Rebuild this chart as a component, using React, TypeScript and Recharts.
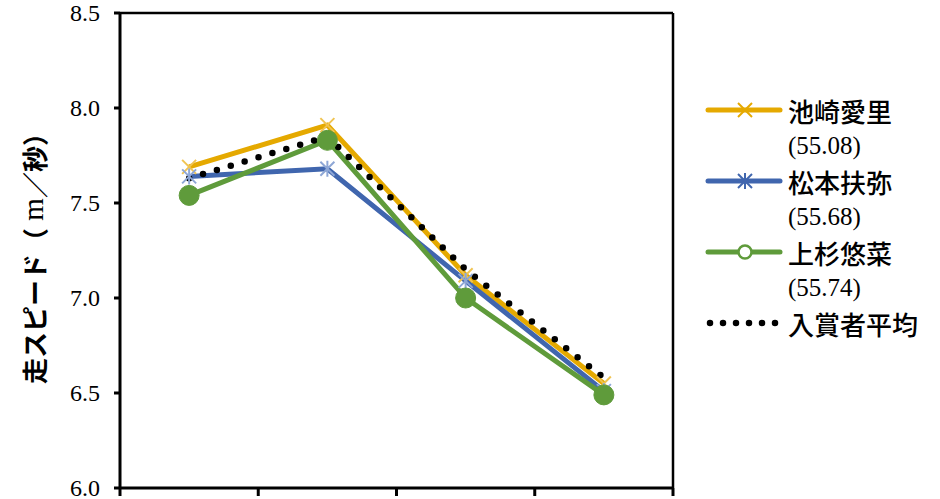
import React from 'react';
import { LineChart, Line, XAxis, YAxis, ReferenceLine, Legend } from 'recharts';

const sections = ['区間1', '区間2', '区間3', '区間4'];
const ikezaki = [7.69, 7.91, 7.12, 6.55];
const matsumoto = [7.64, 7.68, 7.09, 6.51];
const uesugi = [7.54, 7.83, 7.0, 6.49];
const average = [7.63, 7.85, 7.15, 6.58];
const yTicks = [6.0, 6.5, 7.0, 7.5, 8.0, 8.5];
const xTicks = [0, 1, 2, 3, 4];

const SERIES = [
    { key: 'ikezaki', name: '池崎愛里', time: '(55.08)', color: '#E5A900', marker: 'x' },
    { key: 'matsumoto', name: '松本扶弥', time: '(55.68)', color: '#4066AE', marker: 'star' },
    { key: 'uesugi', name: '上杉悠菜', time: '(55.74)', color: '#5F9B3B', marker: 'circle' },
    { key: 'average', name: '入賞者平均', time: '', color: '#000000', marker: 'none' },
];

const chartData = sections.map((s, i) => ({
    section: s,
    x: i + 0.5,
    ikezaki: ikezaki[i],
    matsumoto: matsumoto[i],
    uesugi: uesugi[i],
    average: average[i],
}));

const SERIF = 'Liberation Serif, DejaVu Serif, serif';
const CJK = 'Noto Sans CJK JP, Noto Sans, sans-serif';

const XDot = (props: any) => {
    const { cx, cy } = props;
    if (cx == null || cy == null) return null;
    const r = 7;
    return (
        <g stroke="#F0C452" strokeWidth={2}>
            <line x1={cx - r} y1={cy - r} x2={cx + r} y2={cy + r} />
            <line x1={cx - r} y1={cy + r} x2={cx + r} y2={cy - r} />
        </g>
    );
};

const StarDot = (props: any) => {
    const { cx, cy } = props;
    if (cx == null || cy == null) return null;
    const r = 7;
    return (
        <g stroke="#8EA7D6" strokeWidth={2}>
            <line x1={cx - r} y1={cy - r} x2={cx + r} y2={cy + r} />
            <line x1={cx - r} y1={cy + r} x2={cx + r} y2={cy - r} />
            <line x1={cx} y1={cy - r - 1} x2={cx} y2={cy + r + 1} />
        </g>
    );
};

const CircleDot = (props: any) => {
    const { cx, cy } = props;
    if (cx == null || cy == null) return null;
    return <circle cx={cx} cy={cy} r={10} fill="#5F9B3B" stroke="#5F9B3B" strokeWidth={1} />;
};

const YTick = (props: any) => {
    const { x, y, payload } = props;
    return (
        <text x={x} y={y} textAnchor="end" dominantBaseline="central" fill="#000"
            style={{ fontFamily: SERIF, fontSize: 24 }}>
            {Number(payload.value).toFixed(1)}
        </text>
    );
};

const LegendIcon = ({ color, marker, y }: { color: string; marker: string; y: number }) => {
    if (marker === 'none') {
        return (
            <line x1={8} y1={y} x2={78} y2={y} stroke={color} strokeWidth={6.5}
                strokeDasharray="0 13" strokeLinecap="round" />
        );
    }
    const cx = 43;
    return (
        <g>
            <line x1={6} y1={y} x2={78} y2={y} stroke={color} strokeWidth={5} strokeLinecap="round" />
            {marker === 'x' && (
                <g stroke={color} strokeWidth={2}>
                    <line x1={cx - 7} y1={y - 7} x2={cx + 7} y2={y + 7} />
                    <line x1={cx - 7} y1={y + 7} x2={cx + 7} y2={y - 7} />
                </g>
            )}
            {marker === 'star' && (
                <g stroke={color} strokeWidth={2}>
                    <line x1={cx - 7} y1={y - 7} x2={cx + 7} y2={y + 7} />
                    <line x1={cx - 7} y1={y + 7} x2={cx + 7} y2={y - 7} />
                    <line x1={cx} y1={y - 8} x2={cx} y2={y + 8} />
                </g>
            )}
            {marker === 'circle' && (
                <circle cx={cx} cy={y} r={6.5} fill="#fff" stroke={color} strokeWidth={2.5} />
            )}
        </g>
    );
};

const CustomLegend = () => {
    const rowH = 35.5;
    let row = 0;
    const items: React.ReactNode[] = [];
    SERIES.forEach(s => {
        const y = 20 + row * rowH;
        items.push(
            <g key={s.key}>
                <LegendIcon color={s.color} marker={s.marker} y={y} />
                <text x={86} y={y} dominantBaseline="central" fill="#000"
                    style={{ fontFamily: CJK, fontSize: 26, fontWeight: 500 }}>
                    {s.name}
                </text>
                {s.time && (
                    <text x={86} y={y + rowH} dominantBaseline="central" fill="#000"
                        style={{ fontFamily: SERIF, fontSize: 25 }}>
                        {s.time}
                    </text>
                )}
            </g>
        );
        row += s.time ? 2 : 1;
    });
    return (
        <svg width={240} height={260} style={{ display: 'block' }}>
            {items}
        </svg>
    );
};

const YLabel = () => (
    <text transform="translate(33, 252) rotate(-90)" textAnchor="middle" dominantBaseline="central"
        fill="#000" style={{ fontFamily: CJK, fontWeight: 'bold', fontSize: 26 }}>
        走スピード（<tspan style={{ fontFamily: SERIF, fontWeight: 'normal', fontSize: 29 }}> m</tspan>／秒）
    </text>
);

export default function App() {
    return (
        <div style={{ position: 'absolute', left: 0, top: 0, width: 940, height: 499, background: '#fff' }}>
            <LineChart width={940} height={499} data={chartData}
                margin={{ top: 13, right: 267, bottom: 0, left: 0 }}>
                <XAxis type="number" dataKey="x" domain={[0, 4]} ticks={xTicks} tickFormatter={() => ''}
                    height={11} tickSize={8} axisLine={{ stroke: '#000', strokeWidth: 3 }}
                    tickLine={{ stroke: '#000', strokeWidth: 3 }} />
                <YAxis type="number" domain={[6, 8.5]} ticks={yTicks} allowDataOverflow width={120}
                    interval={0} tickSize={6} tickMargin={14}
                    axisLine={{ stroke: '#000', strokeWidth: 3 }} tickLine={{ stroke: '#000', strokeWidth: 3 }}
                    tick={<YTick />}
                    label={{ content: <YLabel /> }} />
                <ReferenceLine y={8.5} stroke="#000" strokeWidth={2.5} />
                <ReferenceLine x={4} stroke="#000" strokeWidth={2.5} />
                <Legend layout="vertical" align="center" verticalAlign="middle" content={<CustomLegend />}
                    wrapperStyle={{ left: 702, top: 90, width: 240, height: 260 }} />
                <Line type="linear" dataKey="ikezaki" name="池崎愛里" stroke="#E5A900" strokeWidth={5}
                    dot={<XDot />} activeDot={false} isAnimationActive={false} />
                <Line type="linear" dataKey="matsumoto" name="松本扶弥" stroke="#4066AE" strokeWidth={5}
                    dot={<StarDot />} activeDot={false} isAnimationActive={false} />
                <Line type="linear" dataKey="uesugi" name="上杉悠菜" stroke="#5F9B3B" strokeWidth={5}
                    dot={<CircleDot />} activeDot={false} isAnimationActive={false} />
                <Line type="linear" dataKey="average" name="入賞者平均" stroke="#000" strokeWidth={6.5}
                    strokeDasharray="0 14.5" strokeLinecap="round" dot={false} activeDot={false}
                    isAnimationActive={false} />
            </LineChart>
        </div>
    );
}
